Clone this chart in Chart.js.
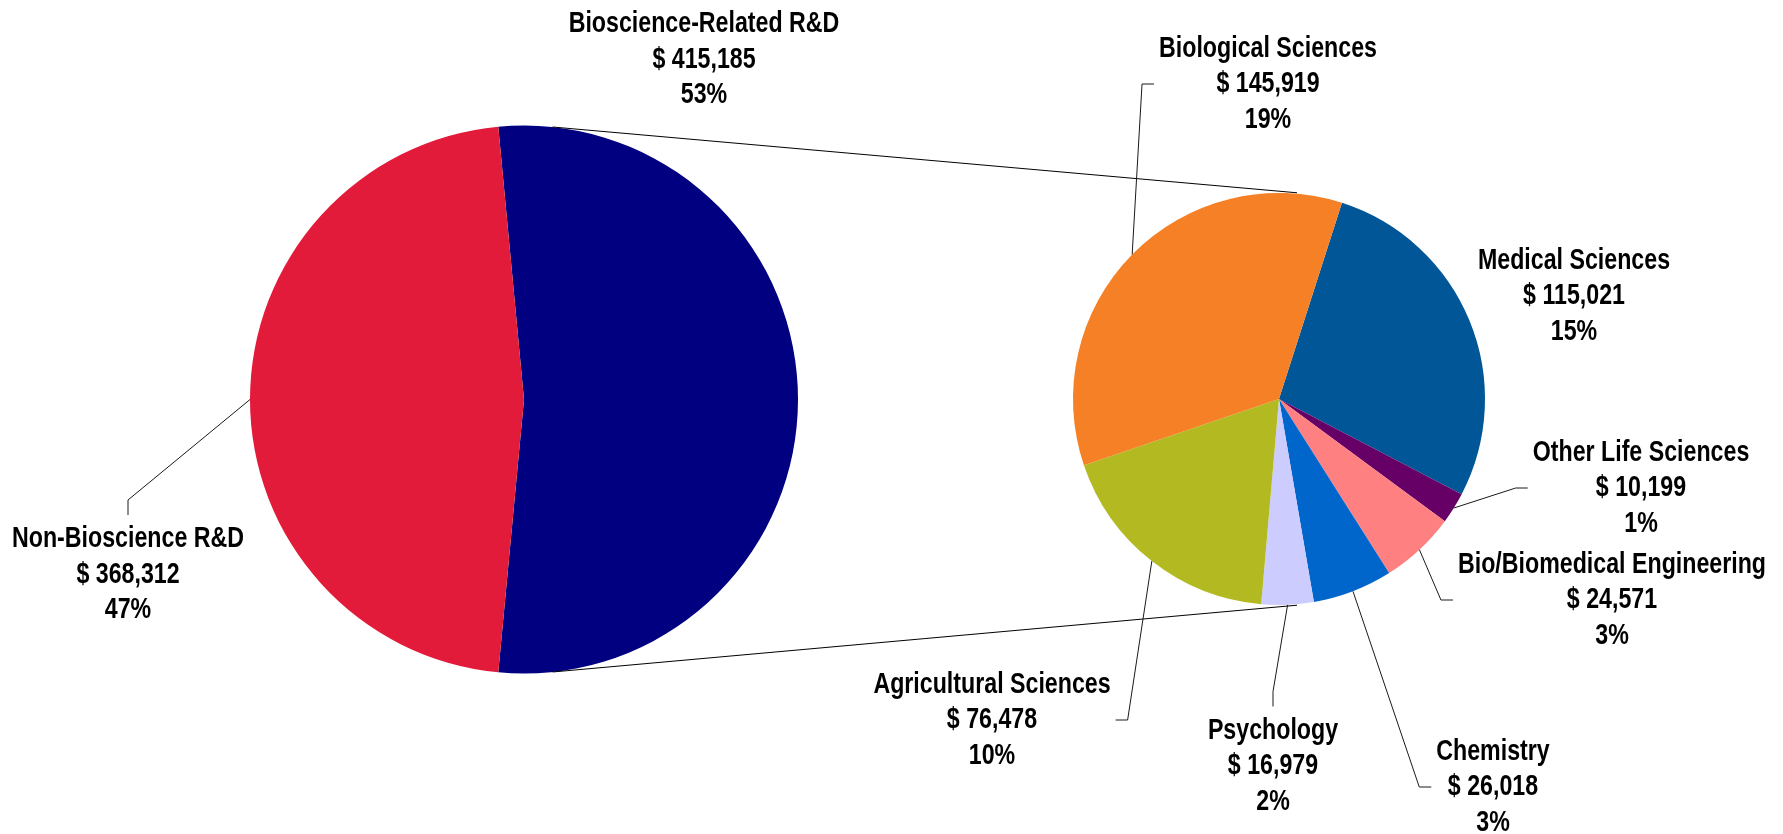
<!DOCTYPE html>
<html>
<head>
<meta charset="utf-8">
<title>R&amp;D Expenditures by Field</title>
<script src="https://cdn.jsdelivr.net/npm/chart.js@4.4.1/dist/chart.umd.min.js"></script>
<style>
  html,body{margin:0;padding:0;background:#fff;}
  #wrap{position:relative;width:1783px;height:834px;overflow:hidden;}
  #wrap canvas{position:absolute;left:0;top:0;}
</style>
</head>
<body>
<div id="wrap">
  <canvas id="main" width="1783" height="834"></canvas>
  <canvas id="detail" width="1783" height="834"></canvas>
</div>
<script>
(function(){
  "use strict";
  // first pie: total R&D split
  const MAIN_LABELS=["Bioscience-Related R&D","Non-Bioscience R&D"];
  const MAIN_VALUES=[415185,368312];
  const MAIN_COLORS=["#000080","#E31B3A"];

  // second pie: what the bioscience slice is made of (clockwise from top)
  const SUB_LABELS=["Medical Sciences","Other Life Sciences","Bio/Biomedical Engineering","Chemistry","Psychology","Agricultural Sciences","Biological Sciences"];
  const SUB_VALUES=[115021,10199,24571,26018,16979,76478,145919];
  const SUB_COLORS=["#005696","#660066","#FF8080","#0066CC","#CCCCFF","#B3BA21","#F58025"];

  // label block offsets from the pie centre, and which side the leader joins
  const MAIN_PLACE=[{dx:180,dy:-340,lead:null},{dx:-396,dy:175,lead:"top"}];
  const SUB_PLACE=[
    {dx:295,dy:-103,lead:null},
    {dx:362,dy:89,lead:"left"},
    {dx:333,dy:201,lead:"left"},
    {dx:214,dy:388,lead:"left"},
    {dx:-6,dy:367,lead:"top"},
    {dx:-287,dy:321,lead:"right"},
    {dx:-11,dy:-315,lead:"left"}
  ];

  const GRAND=MAIN_VALUES.reduce((a,b)=>a+b,0);
  const FONT='bold 29px "Liberation Sans",Arial,sans-serif';
  const SQUEEZE=0.8;   // narrow the bold face horizontally
  const LINE_H=35.5;

  function money(v){return "$ "+v.toLocaleString("en-US");}
  function pct(v){return Math.round(v/GRAND*100)+"%";}

  function sliceLabels(places){
    return {
      id:"sliceLabels",
      afterDraw(chart){
        const ctx=chart.ctx, meta=chart.getDatasetMeta(0), ds=chart.data.datasets[0];
        ctx.save();
        ctx.font=FONT; ctx.fillStyle="#000"; ctx.textAlign="center"; ctx.textBaseline="middle";
        ctx.strokeStyle="#1a1a1a"; ctx.lineWidth=1;
        meta.data.forEach((arc,i)=>{
          const p=arc.getProps(["x","y","startAngle","endAngle","outerRadius"],true);
          const pl=places[i]; if(!pl) return;
          const lines=[chart.data.labels[i],money(ds.data[i]),pct(ds.data[i])];
          const cx=p.x+pl.dx, cy=p.y+pl.dy;
          const w=Math.max(...lines.map(t=>ctx.measureText(t).width))*SQUEEZE;
          if(pl.lead){
            const mid=(p.startAngle+p.endAngle)/2;
            const ex=p.x+p.outerRadius*Math.cos(mid), ey=p.y+p.outerRadius*Math.sin(mid);
            let ax,ay,kx,ky;
            if(pl.lead==="left"){ax=cx-w/2-5;ay=cy;kx=ax-12;ky=ay;}
            else if(pl.lead==="right"){ax=cx+w/2+5;ay=cy;kx=ax+12;ky=ay;}
            else {ax=cx;ay=cy-LINE_H-24;kx=ax;ky=ay-15;}
            ctx.beginPath(); ctx.moveTo(ex,ey); ctx.lineTo(kx,ky); ctx.lineTo(ax,ay); ctx.stroke();
          }
          lines.forEach((t,k)=>{
            ctx.save();
            ctx.translate(cx,cy+(k-1)*LINE_H);
            ctx.scale(SQUEEZE,1);
            ctx.fillText(t,0,0);
            ctx.restore();
          });
        });
        ctx.restore();
      }
    };
  }

  const baseOpts={
    responsive:false,animation:false,
    plugins:{legend:{display:false},tooltip:{enabled:false}},
    elements:{arc:{borderWidth:0}}
  };

  // centre the bioscience slice on the right-hand side, facing the breakdown
  const bioDeg=MAIN_VALUES[0]/GRAND*360;
  const mainChart=new Chart(document.getElementById("main"),{
    type:"pie",
    data:{labels:MAIN_LABELS,datasets:[{data:MAIN_VALUES,backgroundColor:MAIN_COLORS,borderWidth:0}]},
    options:Object.assign({},baseOpts,{
      rotation:90-bioDeg/2,
      layout:{padding:{left:250,right:985,top:125,bottom:160}}
    }),
    plugins:[sliceLabels(MAIN_PLACE)]
  });

  // lines joining the bioscience slice to the breakdown pie
  const connectors={
    id:"connectors",
    afterDraw(chart){
      const a=mainChart.getDatasetMeta(0).data[0].getProps(["x","y","outerRadius"],true);
      const b=chart.getDatasetMeta(0).data[0].getProps(["x","y","outerRadius"],true);
      const rad=d=>(d-90)*Math.PI/180;
      const ctx=chart.ctx;
      ctx.save(); ctx.strokeStyle="#000"; ctx.lineWidth=1;
      [[6,5],[174,175]].forEach(([da,db])=>{
        ctx.beginPath();
        ctx.moveTo(a.x+a.outerRadius*Math.cos(rad(da)),a.y+a.outerRadius*Math.sin(rad(da)));
        ctx.lineTo(b.x+(b.outerRadius+1)*Math.cos(rad(db)),b.y+(b.outerRadius+1)*Math.sin(rad(db)));
        ctx.stroke();
      });
      ctx.restore();
    }
  };

  new Chart(document.getElementById("detail"),{
    type:"pie",
    data:{labels:SUB_LABELS,datasets:[{data:SUB_VALUES,backgroundColor:SUB_COLORS,borderWidth:0}]},
    options:Object.assign({},baseOpts,{
      rotation:17.8,
      layout:{padding:{left:1073,right:298,top:193,bottom:229}}
    }),
    plugins:[connectors,sliceLabels(SUB_PLACE)]
  });
})();
</script>
</body>
</html>
